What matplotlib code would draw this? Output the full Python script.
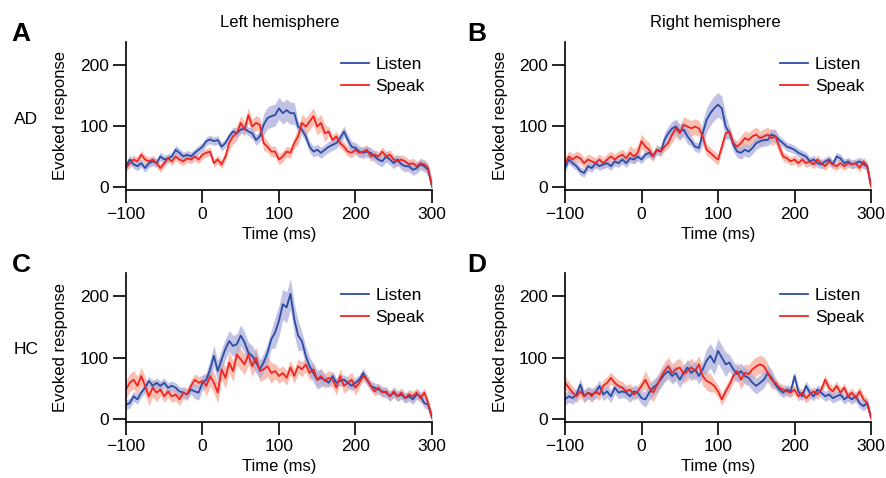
import numpy as np
import matplotlib
matplotlib.use("Agg")
import matplotlib.pyplot as plt

plt.rcParams['font.family'] = ['Liberation Sans', 'DejaVu Sans']

# time axis, 5 ms steps
t = np.arange(-100, 301, 5)

# panel A (AD, left)
a_listen = [34, 45, 37, 34, 39, 31, 39, 42, 39, 50, 45, 47, 50, 61, 56, 50, 53, 50, 56, 61,
            66, 75, 78, 75, 77, 66, 72, 83, 91, 88, 94, 96, 91, 88, 77, 83, 102, 113, 116, 118,
            129, 121, 126, 121, 121, 99, 94, 83, 66, 58, 61, 56, 61, 66, 69, 72, 80, 91, 77, 66,
            64, 58, 56, 58, 56, 50, 45, 42, 50, 45, 39, 45, 37, 34, 34, 28, 31, 37, 34, 28, 1]
a_speak = [31, 39, 45, 42, 53, 45, 42, 45, 39, 31, 39, 47, 42, 50, 45, 42, 47, 45, 50, 45,
           53, 56, 58, 39, 45, 37, 50, 72, 83, 88, 105, 94, 118, 99, 105, 102, 72, 66, 58, 58,
           45, 50, 58, 56, 72, 83, 105, 99, 107, 116, 99, 105, 88, 91, 77, 83, 72, 66, 58, 56,
           61, 56, 58, 61, 50, 53, 50, 58, 50, 53, 45, 42, 45, 42, 37, 39, 34, 39, 37, 31, 1]
a_listen_err = [7] * 33 + [9] * 3 + [18] * 9 + [9] * 36
a_speak_err = [7] * 27 + [12] * 10 + [9] * 8 + [14] * 8 + [8] * 28

# panel B (AD, right)
b_listen = [31, 45, 39, 34, 26, 23, 34, 31, 39, 34, 37, 39, 34, 42, 39, 45, 39, 47, 45, 50,
            45, 53, 56, 50, 61, 58, 77, 88, 96, 99, 91, 94, 83, 75, 66, 64, 88, 110, 121, 129,
            135, 129, 99, 88, 69, 58, 56, 61, 58, 64, 72, 75, 77, 77, 86, 83, 77, 72, 66, 64,
            61, 56, 53, 50, 42, 45, 39, 37, 42, 45, 37, 50, 47, 39, 42, 37, 39, 42, 37, 34, 1]
b_speak = [39, 50, 45, 50, 47, 39, 45, 42, 39, 45, 39, 45, 50, 45, 50, 53, 47, 56, 50, 56,
           75, 66, 61, 50, 61, 58, 66, 72, 86, 96, 88, 102, 99, 96, 99, 96, 83, 61, 56, 50,
           45, 66, 88, 91, 72, 66, 72, 80, 77, 83, 86, 80, 83, 86, 80, 83, 66, 50, 47, 42,
           45, 39, 45, 39, 42, 37, 45, 39, 34, 42, 37, 34, 39, 34, 39, 37, 39, 31, 42, 34, 1]
b_listen_err = [7] * 26 + [12] * 7 + [8] * 3 + [20] * 7 + [10] * 13 + [7] * 25
b_speak_err = [9] * 17 + [12] * 6 + [8] * 5 + [13] * 9 + [9] * 9 + [12] * 11 + [7] * 24

# panel C (HC, left)
c_listen = [23, 26, 37, 32, 43, 51, 62, 54, 59, 54, 59, 51, 54, 51, 45, 43, 40, 48, 45, 43,
            59, 64, 81, 103, 78, 97, 114, 127, 119, 122, 136, 125, 108, 103, 92, 81, 92, 108, 130, 141,
            160, 187, 182, 204, 163, 136, 127, 103, 86, 75, 64, 67, 64, 59, 70, 59, 62, 64, 59, 54,
            59, 64, 75, 64, 54, 51, 48, 45, 43, 37, 43, 37, 40, 34, 37, 32, 40, 37, 26, 23, 2]
c_speak = [48, 59, 64, 54, 70, 54, 37, 51, 43, 48, 37, 45, 37, 40, 32, 43, 40, 54, 64, 59,
           62, 54, 70, 59, 43, 81, 67, 92, 78, 105, 97, 89, 105, 86, 100, 78, 81, 86, 75, 78,
           70, 75, 67, 84, 70, 86, 81, 89, 75, 81, 64, 70, 62, 67, 64, 51, 70, 54, 59, 64,
           51, 59, 70, 64, 54, 45, 51, 43, 45, 37, 45, 37, 43, 34, 40, 37, 43, 34, 43, 26, 2]
c_listen_err = [8] * 18 + [12] * 4 + [17] * 13 + [15] * 4 + [25] * 7 + [15] * 6 + [8] * 29
c_speak_err = [15] * 9 + [10] * 12 + [17] * 18 + [12] * 22 + [8] * 20

# panel D (HC, right)
d_listen = [32, 37, 34, 40, 56, 37, 43, 40, 43, 54, 40, 45, 37, 51, 43, 45, 43, 37, 45, 43,
            34, 32, 43, 51, 56, 64, 73, 78, 70, 75, 64, 75, 84, 75, 81, 70, 81, 95, 103, 92,
            111, 100, 89, 92, 81, 73, 78, 70, 67, 59, 54, 59, 64, 75, 67, 56, 48, 43, 48, 45,
            70, 45, 37, 54, 43, 37, 48, 43, 37, 40, 34, 37, 40, 32, 37, 32, 37, 26, 21, 26, 2]
d_speak = [59, 51, 43, 37, 45, 37, 43, 37, 45, 40, 54, 59, 67, 59, 54, 51, 45, 48, 40, 45,
           54, 64, 51, 43, 54, 67, 78, 86, 75, 81, 84, 73, 78, 84, 78, 89, 70, 62, 59, 54,
           45, 32, 45, 56, 70, 78, 64, 75, 73, 81, 86, 89, 86, 75, 64, 59, 51, 48, 45, 43,
           48, 37, 43, 34, 40, 45, 40, 48, 64, 51, 45, 54, 43, 51, 37, 43, 34, 45, 32, 26, 2]
d_listen_err = [10] * 21 + [13] * 16 + [20] * 6 + [13] * 12 + [8] * 26
d_speak_err = [10] * 21 + [15] * 18 + [10] * 6 + [15] * 10 + [8] * 26

blue = '#2b4ca5'
red = '#f0251f'
blue_fill = '#acaedb'
red_fill = '#f7b4a6'

fig = plt.figure(figsize=(8.87, 4.78), dpi=100)

panels = [
    ('A', [0.142, 0.6025, 0.345, 0.31], a_listen, a_listen_err, a_speak, a_speak_err),
    ('B', [0.637, 0.6025, 0.345, 0.31], b_listen, b_listen_err, b_speak, b_speak_err),
    ('C', [0.142, 0.117, 0.345, 0.312], c_listen, c_listen_err, c_speak, c_speak_err),
    ('D', [0.637, 0.117, 0.345, 0.312], d_listen, d_listen_err, d_speak, d_speak_err),
]

for name, rect, lis, lis_e, spk, spk_e in panels:
    ax = fig.add_axes(rect)
    lis = np.array(lis, dtype=float)
    spk = np.array(spk, dtype=float)
    lis_e = np.array(lis_e, dtype=float)
    spk_e = np.array(spk_e, dtype=float)
    ax.fill_between(t, spk - spk_e, spk + spk_e, color=red_fill, lw=0, alpha=0.85)
    ax.fill_between(t, lis - lis_e, lis + lis_e, color=blue_fill, lw=0, alpha=0.75)
    ax.plot(t, lis, color=blue, lw=1.3, label='Listen')
    ax.plot(t, spk, color=red, lw=1.3, label='Speak')
    ax.set_xlim(-100, 300)
    ax.set_ylim(-5, 238)
    ax.set_xticks([-100, 0, 100, 200, 300])
    ax.set_yticks([0, 100, 200])
    ax.spines['top'].set_visible(False)
    ax.spines['right'].set_visible(False)
    for s in ['left', 'bottom']:
        ax.spines[s].set_linewidth(1.2)
    ax.tick_params(length=9.5, width=1.2, labelsize=12.5, pad=3)
    ax.set_xlabel('Time (ms)', fontsize=12, labelpad=3)
    ax.set_ylabel('Evoked response', fontsize=12, labelpad=8)
    ax.legend(loc='upper right', bbox_to_anchor=(1.0, 0.945), frameon=False, fontsize=12.5,
              handlelength=1.6, handletextpad=0.4, labelspacing=0.37, borderaxespad=0)

fig.text(0.013, 0.915, 'A', fontsize=19, fontweight='bold')
fig.text(0.527, 0.915, 'B', fontsize=19, fontweight='bold')
fig.text(0.013, 0.43, 'C', fontsize=19, fontweight='bold')
fig.text(0.527, 0.43, 'D', fontsize=19, fontweight='bold')
fig.text(0.315, 0.953, 'Left hemisphere', fontsize=12, ha='center', va='center')
fig.text(0.806, 0.953, 'Right hemisphere', fontsize=12, ha='center', va='center')
fig.text(0.029, 0.75, 'AD', fontsize=12.5, ha='center', va='center')
fig.text(0.029, 0.268, 'HC', fontsize=12.5, ha='center', va='center')

fig.savefig('out.png', dpi=100)
